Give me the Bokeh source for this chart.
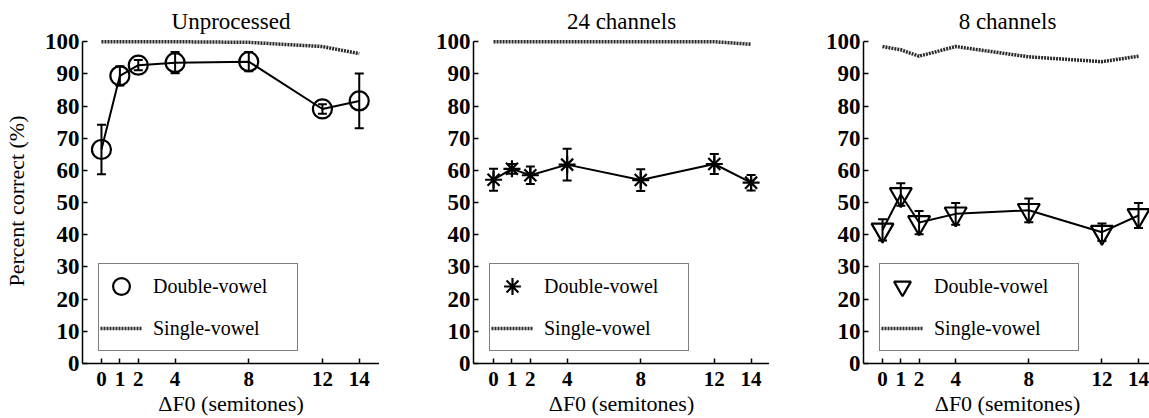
from bokeh.plotting import figure
from bokeh.layouts import row
from bokeh.models import (ColumnDataSource, Whisker, TeeHead, Legend, LegendItem,
                          FixedTicker, Range1d)
from bokeh.embed import file_html
from bokeh.resources import INLINE

# ---- data ----
semitones = [0, 1, 2, 4, 8, 12, 14]
x_tick_values = [0, 1, 2, 4, 8, 12, 14]
y_tick_values = [0, 10, 20, 30, 40, 50, 60, 70, 80, 90, 100]

titles = ["Unprocessed", "24 channels", "8 channels"]

unproc_double = [66.5, 89.4, 92.7, 93.5, 93.8, 79.1, 81.6]
unproc_err = [7.7, 3.0, 1.6, 3.3, 3.0, 1.5, 8.5]
unproc_single = [100.0, 100.0, 100.0, 100.0, 99.8, 98.5, 96.3]

ch24_double = [57.1, 60.5, 58.5, 61.8, 57.0, 62.0, 56.2]
ch24_err = [3.4, 1.5, 2.7, 4.9, 3.4, 3.1, 2.4]
ch24_single = [100.0, 100.0, 100.0, 100.0, 100.0, 100.0, 99.2]

ch8_double = [41.5, 52.5, 43.8, 46.5, 47.6, 40.8, 46.0]
ch8_err = [3.3, 3.5, 3.6, 3.4, 3.7, 2.7, 3.9]
ch8_single = [98.5, 97.5, 95.5, 98.5, 95.3, 93.8, 95.5]

SERIF = "Liberation Serif"


def make_panel(title, double, err, single, marker, msize, xr, left, fw, right, ylabel):
    p = figure(frame_width=fw, frame_height=325,
               x_range=Range1d(*xr), y_range=Range1d(0, 101),
               output_backend="svg", toolbar_location=None,
               min_border_left=left, min_border_right=right,
               min_border_top=38, min_border_bottom=55,
               background_fill_color="white", border_fill_color="white")
    p.outline_line_color = None
    p.xgrid.visible = False
    p.ygrid.visible = False

    p.title.text = title
    p.title.align = "center"
    p.title.text_font = SERIF
    p.title.text_font_size = "23px"
    p.title.text_font_style = "normal"
    p.title.text_color = "black"
    p.title.standoff = 9

    for ax in (p.xaxis[0], p.yaxis[0]):
        ax.axis_line_width = 1.5
        ax.axis_line_color = "black"
        ax.major_tick_in = 5
        ax.major_tick_out = 0
        ax.major_tick_line_width = 1.5
        ax.minor_tick_line_color = None
        ax.major_label_text_font = SERIF
        ax.major_label_text_font_style = "bold"
        ax.major_label_text_color = "black"
        ax.axis_label_text_font = SERIF
        ax.axis_label_text_font_style = "normal"
        ax.axis_label_text_font_size = "22px"
        ax.axis_label_text_color = "black"

    p.xaxis.ticker = FixedTicker(ticks=x_tick_values)
    p.xaxis.major_label_text_font_size = "21px"
    p.xaxis.major_label_standoff = 8
    p.xaxis.axis_label = "\u0394F0 (semitones)"
    p.xaxis.axis_label_standoff = 2

    p.yaxis.ticker = FixedTicker(ticks=y_tick_values)
    p.yaxis.bounds = (0, 100)
    p.yaxis.major_label_text_font_size = "23px"
    p.yaxis.major_label_standoff = 3
    if ylabel:
        p.yaxis.axis_label = ylabel
        p.yaxis.axis_label_standoff = 13

    lower = [v - e for v, e in zip(double, err)]
    upper = [v + e for v, e in zip(double, err)]
    src = ColumnDataSource(dict(x=semitones, y=double, lower=lower, upper=upper))
    ssrc = ColumnDataSource(dict(x=semitones, y=single))

    r_single = p.line("x", "y", source=ssrc, line_width=3.5, line_color="#2a2a2a",
                      line_dash="2 1")
    p.line("x", "y", source=src, line_width=2, line_color="black")
    wh = Whisker(source=src, base="x", upper="upper", lower="lower",
                 line_width=2, line_color="black",
                 upper_head=TeeHead(size=9, line_width=2, line_color="black"),
                 lower_head=TeeHead(size=9, line_width=2, line_color="black"))
    p.add_layout(wh)
    r_mark = p.scatter("x", "y", source=src, marker=marker, size=msize,
                       fill_color=None, line_color="black", line_width=2.2)

    legend = Legend(items=[LegendItem(label="Double-vowel", renderers=[r_mark]),
                           LegendItem(label="Single-vowel", renderers=[r_single])],
                    location=(16, 12), orientation="vertical",
                    glyph_width=42, glyph_height=42, padding=1, spacing=0,
                    label_standoff=11, label_width=143, margin=0,
                    label_text_font=SERIF, label_text_font_size="20px",
                    label_text_color="black",
                    border_line_color="black", border_line_width=1.5,
                    background_fill_color="white", background_fill_alpha=1.0)
    p.add_layout(legend)
    return p


p1 = make_panel(titles[0], unproc_double, unproc_err, unproc_single, "circle", 19,
                (-1.03, 15.1), 78, 297, 0, "Percent correct (%)")
p2 = make_panel(titles[1], ch24_double, ch24_err, ch24_single, "asterisk", 17,
                (-1.09, 15.0), 94, 296, 0, None)
p3 = make_panel(titles[2], ch8_double, ch8_err, ch8_single, "inverted_triangle", 22,
                (-1.04, 14.71), 94, 288, 2, None)

layout = row(p1, p2, p3, spacing=0)

open("out.html", "w").write(file_html(layout, INLINE))
